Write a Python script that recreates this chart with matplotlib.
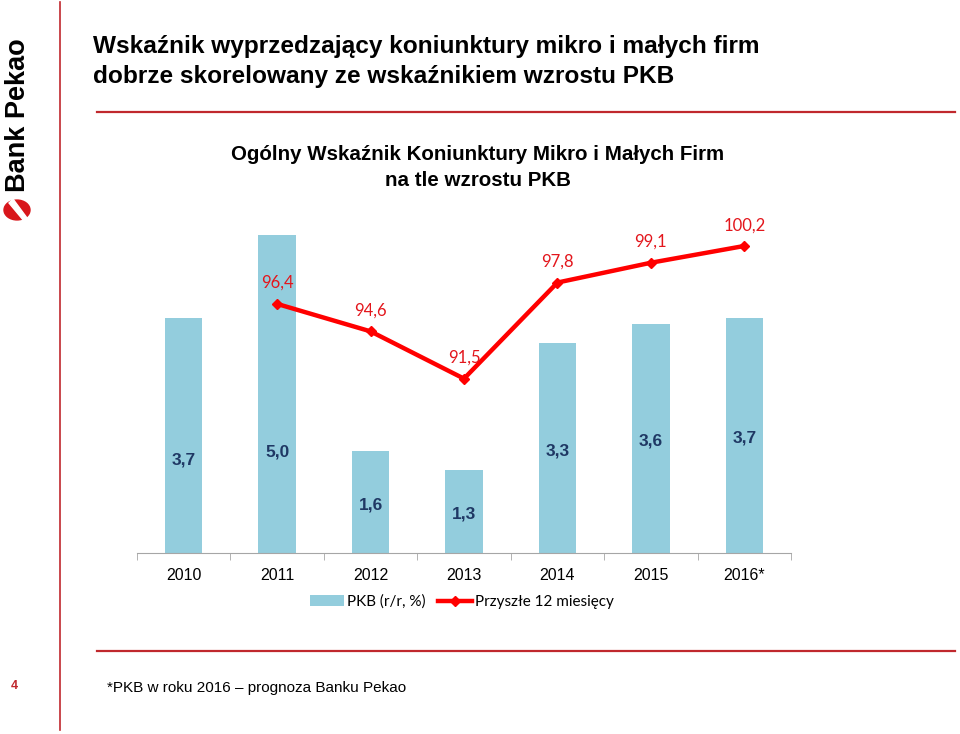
# Wskaznik koniunktury mikro i malych firm vs PKB - slide recreation

import matplotlib
matplotlib.use("Agg")
import matplotlib.pyplot as plt
from matplotlib.patches import Circle, Polygon
from matplotlib.lines import Line2D

years = ["2010", "2011", "2012", "2013", "2014", "2015", "2016*"]
pkb = [3.7, 5.0, 1.6, 1.3, 3.3, 3.6, 3.7]
wskaznik = [None, 96.4, 94.6, 91.5, 97.8, 99.1, 100.2]

# manual nudges of the bar labels (in points), like on the slide
bar_label_shift = [-18, -42, -2, -2, -2, -2, -2]

arial = ["Liberation Sans", "DejaVu Sans"]
calib = ["Lato", "DejaVu Sans"]

bar_col = "#93cddd"
line_col = "#ff0000"
dark_red = "#c0282d"

fig = plt.figure(figsize=(9.6, 7.34), dpi=100)

def px(x, y):
    return x / 960, 1 - y / 734

# slide frame
fig.add_artist(Line2D([60 / 960, 60 / 960], [1 - 2 / 734, 1 - 730 / 734],
                      color=dark_red, lw=1.2))
fig.add_artist(Line2D([97 / 960, 955 / 960], [1 - 112 / 734] * 2, color=dark_red, lw=1.6))
fig.add_artist(Line2D([97 / 960, 955 / 960], [1 - 651 / 734] * 2, color=dark_red, lw=1.6))

# logo
fig.text(*px(18, 115), "Bank Pekao", rotation=90, ha="center", va="center",
         fontsize=19.5, fontweight="bold", family=arial)
fig.add_artist(Circle(px(17, 210), 13 / 960, transform=fig.transFigure,
                      color="#d8161b"))
fig.add_artist(Polygon([px(9, 203), px(13, 199), px(27, 218), px(24, 221)],
                       closed=True, transform=fig.transFigure, color="white"))

# titles
fig.text(*px(93, 47), "Wskaźnik wyprzedzający koniunktury mikro i małych firm",
         ha="left", va="center", fontsize=17.6, fontweight="bold", family=arial)
fig.text(*px(93, 76), "dobrze skorelowany ze wskaźnikiem wzrostu PKB",
         ha="left", va="center", fontsize=17.6, fontweight="bold", family=arial)
fig.text(*px(478, 155), "Ogólny Wskaźnik Koniunktury Mikro i Małych Firm",
         ha="center", va="center", fontsize=14.8, fontweight="bold", family=arial)
fig.text(*px(478, 180), "na tle wzrostu PKB",
         ha="center", va="center", fontsize=14.8, fontweight="bold", family=arial)

# footer
fig.text(*px(14, 686), "4", ha="center", va="center", fontsize=9,
         fontweight="bold", color=dark_red, family=arial)
fig.text(*px(107, 688), "*PKB w roku 2016 – prognoza Banku Pekao", ha="left",
         va="center", fontsize=11, family=arial)

# chart
ax = fig.add_axes([137 / 960, (734 - 553) / 734, 654 / 960, 338 / 734])
x = list(range(len(years)))
bars = ax.bar(x, pkb, width=0.4, color=bar_col, label="PKB (r/r, %)", zorder=1)
ax.set_xlim(-0.5, 6.5)
ax.set_ylim(0, 338 / 63.6)
for s in ["top", "left", "right"]:
    ax.spines[s].set_visible(False)
ax.spines["bottom"].set_color("#a6a6a6")
ax.set_yticks([])
ax.set_xticks(x)
ax.set_xticklabels(years, fontsize=11.5, family=arial)
ax.tick_params(axis="x", which="major", length=0, pad=11)
ax.set_xticks([i - 0.5 for i in range(len(years) + 1)], minor=True)
ax.tick_params(axis="x", which="minor", length=5, color="#a6a6a6")

for i, v in enumerate(pkb):
    ax.annotate(f"{v:.1f}".replace(".", ","), (i, v / 2),
                xytext=(0, bar_label_shift[i]), textcoords="offset points",
                ha="center", va="center", fontsize=12.5, fontweight="bold",
                color="#1f3864", family=arial)

ax2 = ax.twinx()
lx = [i for i, v in enumerate(wskaznik) if v is not None]
ly = [v for v in wskaznik if v is not None]
ax2.plot(lx, ly, color=line_col, lw=3.2, marker="D", markersize=5,
         label="Przyszłe 12 miesięcy", zorder=3)
ax2.set_ylim(80.07, 102.23)
ax2.set_yticks([])
for s in ["top", "left", "right", "bottom"]:
    ax2.spines[s].set_visible(False)
for i, v in zip(lx, ly):
    ax2.annotate(f"{v:.1f}".replace(".", ","), (i, v), xytext=(0, 15),
                 textcoords="offset points", ha="center", va="center",
                 fontsize=12, color="#e3161c", family=calib)

handles = [bars, ax2.get_lines()[0]]
leg = fig.legend(handles, ["PKB (r/r, %)", "Przyszłe 12 miesięcy"],
                 loc="center", bbox_to_anchor=px(462, 602), ncol=2,
                 frameon=False, handlelength=2.2, handletextpad=0.2,
                 columnspacing=0.8, prop={"family": calib, "size": 11})

fig.savefig("out.png", dpi=100)
print("saved out.png")
